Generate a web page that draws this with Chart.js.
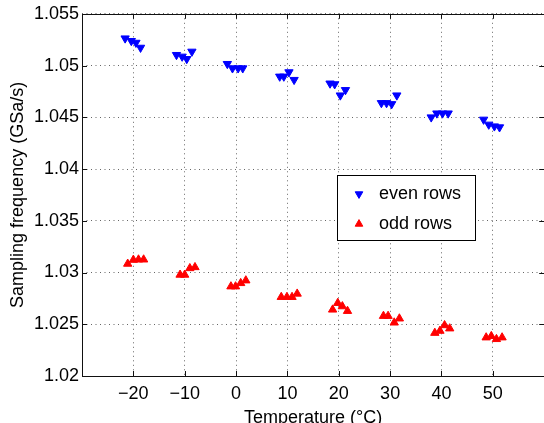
<!DOCTYPE html>
<html>
<head>
<meta charset="utf-8">
<script src="https://cdn.jsdelivr.net/npm/chart.js@4/dist/chart.umd.min.js"></script>
<style>
  html, body { margin: 0; padding: 0; background: #fff; overflow: hidden; }
  #wrap { position: relative; width: 550px; height: 430px; }
</style>
</head>
<body>
<div id="wrap"><canvas id="freqChart"></canvas></div>
<script>
// Measured sampling frequency vs. temperature, four runs per set point
const evenTemp = [-21.6, -20.4, -19.5, -18.6, -11.6, -10.5, -9.6, -8.6,
                  -1.7, -0.7, 0.4, 1.3, 8.5, 9.3, 10.3, 11.3,
                  18.3, 19.2, 20.3, 21.3, 28.3, 29.3, 30.3, 31.3,
                  38.0, 39.1, 40.2, 41.3, 48.2, 49.2, 50.3, 51.3];
const evenFreq = [1.05263, 1.05238, 1.05221, 1.05173, 1.05103, 1.05087, 1.05064, 1.05135,
                  1.05016, 1.04974, 1.04974, 1.04974, 1.04894, 1.04894, 1.04936, 1.04862,
                  1.04827, 1.04820, 1.04712, 1.04764, 1.04638, 1.04638, 1.04628, 1.04712,
                  1.04500, 1.04538, 1.04538, 1.04538, 1.04478, 1.04430, 1.04413, 1.04404];
const oddTemp = [-21.1, -20.0, -19.0, -18.0, -10.9, -10.0, -9.0, -8.0,
                 -1.0, -0.1, 0.9, 1.9, 8.8, 9.9, 10.9, 11.9,
                 18.8, 19.8, 20.7, 21.7, 28.7, 29.6, 30.8, 31.8,
                 38.7, 39.7, 40.6, 41.6, 48.7, 49.7, 50.7, 51.8];
const oddFreq = [1.03084, 1.03122, 1.03125, 1.03125, 1.02978, 1.02978, 1.03041, 1.03051,
                 1.02865, 1.02865, 1.02897, 1.02923, 1.02763, 1.02763, 1.02763, 1.02795,
                 1.02641, 1.02705, 1.02673, 1.02628, 1.02580, 1.02580, 1.02516, 1.02555,
                 1.02416, 1.02436, 1.02490, 1.02459, 1.02372, 1.02385, 1.02356, 1.02372];

const xTicks = [-20, -10, 0, 10, 20, 30, 40, 50];
const yTicks = [1.02, 1.025, 1.03, 1.035, 1.04, 1.045, 1.05, 1.055];

const FONT = { family: 'Liberation Sans, Arial, Helvetica, sans-serif', size: 18 };
const GRID_DASH = [1, 3.5];

function toPoints(xs, ys) {
    return xs.map((x, i) => ({ x: x, y: ys[i] }));
}

// Box around the axes plus inward tick marks on all four sides
const frameTicks = {
    id: 'frameTicks',
    afterDatasetsDraw(chart) {
        const { ctx, chartArea: a, scales } = chart;
        const len = 5;
        ctx.save();
        ctx.strokeStyle = '#111';
        ctx.lineWidth = 1;
        ctx.beginPath();
        scales.x.ticks.forEach(t => {
            const px = Math.round(scales.x.getPixelForValue(t.value)) + 0.5;
            ctx.moveTo(px, a.bottom); ctx.lineTo(px, a.bottom - len);
            ctx.moveTo(px, a.top); ctx.lineTo(px, a.top + len);
        });
        scales.y.ticks.forEach(t => {
            const py = Math.round(scales.y.getPixelForValue(t.value)) + 0.5;
            ctx.moveTo(a.left, py); ctx.lineTo(a.left + len, py);
            ctx.moveTo(a.right, py); ctx.lineTo(a.right - len, py);
        });
        ctx.stroke();
        ctx.strokeRect(Math.round(a.left) + 0.5, Math.round(a.top) + 0.5,
                       Math.round(a.right - a.left), Math.round(a.bottom - a.top));
        ctx.restore();
    }
};

// Legend box drawn inside the plot area
const innerLegend = {
    id: 'innerLegend',
    afterDraw(chart) {
        const { ctx, chartArea: a } = chart;
        const bx = Math.round(a.left + 255) + 0.5;
        const by = Math.round(a.top + 161) + 0.5;
        const bw = 138, bh = 65;
        ctx.save();
        ctx.fillStyle = '#fff';
        ctx.fillRect(bx, by, bw, bh);
        ctx.strokeStyle = '#000';
        ctx.lineWidth = 1;
        ctx.strokeRect(bx, by, bw, bh);
        ctx.font = FONT.size + 'px ' + FONT.family;
        ctx.textBaseline = 'middle';
        chart.data.datasets.forEach((ds, i) => {
            const cy = by + 18.5 + i * 30;
            ctx.fillStyle = ds.backgroundColor;
            ctx.strokeStyle = ds.borderColor;
            Chart.helpers.drawPoint(ctx, {
                pointStyle: 'triangle',
                radius: 4.4,
                rotation: ds.pointRotation,
                borderWidth: 1
            }, bx + 21.5, cy);
            ctx.fillStyle = '#000';
            ctx.fillText(ds.label, bx + 41.5, cy);
        });
        ctx.restore();
    }
};

new Chart(document.getElementById('freqChart'), {
    type: 'scatter',
    data: {
        datasets: [
            {
                label: 'even rows',
                data: toPoints(evenTemp, evenFreq),
                pointStyle: 'triangle',
                pointRotation: 180,
                pointRadius: 4.8,
                borderWidth: 1,
                backgroundColor: '#0000ff',
                borderColor: '#0000ff'
            },
            {
                label: 'odd rows',
                data: toPoints(oddTemp, oddFreq),
                pointStyle: 'triangle',
                pointRotation: 0,
                pointRadius: 4.8,
                borderWidth: 1,
                backgroundColor: '#ff0000',
                borderColor: '#ff0000'
            }
        ]
    },
    options: {
        responsive: true,
        maintainAspectRatio: false,
        animation: false,
        events: [],
        layout: { padding: { left: 0, right: 4, top: 12, bottom: 0 } },
        plugins: {
            legend: { display: false },
            tooltip: { enabled: false }
        },
        scales: {
            x: {
                type: 'linear',
                min: -30,
                max: 60,
                afterBuildTicks: scale => { scale.ticks = xTicks.map(v => ({ value: v })); },
                afterFit: scale => { scale.height = 54; },
                border: { display: false, dash: GRID_DASH },
                grid: {
                    color: 'rgba(0,0,0,0.6)',
                    lineWidth: 1,
                    drawTicks: false
                },
                ticks: {
                    color: '#000',
                    font: FONT,
                    padding: 7,
                    maxRotation: 0,
                    callback: v => (v < 0 ? '\u2212' + Math.abs(v) : String(v))
                },
                title: {
                    display: true,
                    text: 'Temperature (\u00b0C)',
                    color: '#000',
                    font: FONT,
                    padding: { top: 0, bottom: 1 }
                }
            },
            y: {
                type: 'linear',
                min: 1.02,
                max: 1.055,
                afterBuildTicks: scale => { scale.ticks = yTicks.map(v => ({ value: v })); },
                afterFit: scale => { scale.width = 82; },
                border: { display: false, dash: GRID_DASH },
                grid: {
                    color: 'rgba(0,0,0,0.6)',
                    lineWidth: 1,
                    drawTicks: false
                },
                ticks: {
                    color: '#000',
                    font: FONT,
                    padding: 3,
                    callback: v => String(parseFloat(v.toFixed(3)))
                },
                title: {
                    display: true,
                    text: 'Sampling frequency (GSa/s)',
                    color: '#000',
                    font: FONT,
                    padding: { top: 7, bottom: 0 }
                }
            }
        }
    },
    plugins: [frameTicks, innerLegend]
});
</script>
</body>
</html>
